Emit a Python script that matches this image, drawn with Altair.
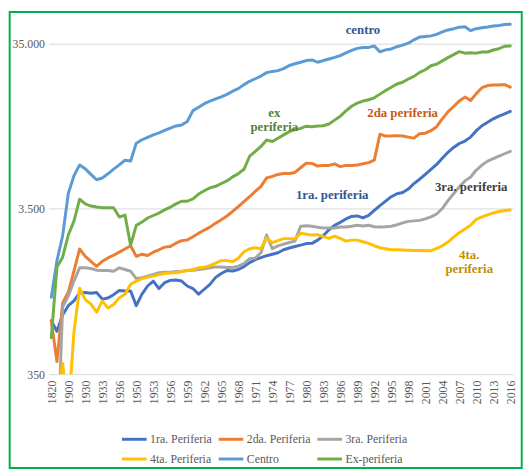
import altair as alt
import pandas as pd

# ---- categories (x axis) ----
years = ["1820", "1850", "1870", "1900", "1913", "1929", "1930", "1931", "1932",
         "1933", "1934", "1935", "1936", "1940", "1945"] + [str(y) for y in range(1950, 2017)]
label_years = ["1820", "1900", "1930", "1933", "1936"] + [str(y) for y in range(1950, 2017, 3)]

series_names = ["1ra. Periferia", "2da. Periferia", "3ra. Periferia",
                "4ta. Periferia", "Centro", "Ex-periferia"]
series_colors = ["#4472C4", "#ED7D31", "#A5A5A5", "#FFC000", "#5B9BD5", "#70AD47"]

primera = [735, 636, 799, 908, 972, 1085, 1091, 1081, 1091, 995, 1012, 1059, 1122, 1115, 1115,
           908, 1066, 1195, 1280, 1153, 1252, 1292, 1298, 1280, 1195,
           1153, 1066, 1142, 1223, 1347, 1423, 1483, 1473, 1503, 1566,
           1655, 1725, 1773, 1822, 1860, 1899, 1979, 2028, 2070, 2113,
           2157, 2163, 2264, 2407, 2616, 2783, 2900, 3042, 3149, 3169,
           3085, 3193, 3420, 3662, 3896, 4144, 4319, 4396, 4607, 4976,
           5287, 5663, 6067, 6498, 7086, 7695, 8226, 8692, 8997, 9504,
           10393, 11132, 11686, 12257, 12719, 13130, 13599]
segunda = [738, 417, 942, 1095, 1470, 2000, 1805, 1685, 1573, 1685, 1766, 1835, 1916, 2000, 2091,
           1805, 1860, 1828, 1914, 1979, 2054, 2071, 2169, 2248, 2270,
           2375, 2489, 2604, 2714, 2867, 3009, 3169, 3373, 3612, 3869,
           4144, 4470, 4787, 5383, 5494, 5648, 5726, 5726, 5806, 6202,
           6616, 6588, 6348, 6408, 6408, 6552, 6304, 6408, 6408, 6436,
           6552, 6659, 6894, 9900, 9640, 9640, 9700, 9640, 9500, 9370,
           9970, 10040, 10390, 10980, 12260, 13500, 14560, 15700, 16590, 15810,
           17410, 18910, 19480, 19650, 19650, 19750, 19040]
tercera = [300, 100, 892, 1041, 1280, 1539, 1539, 1524, 1489, 1483, 1483, 1468, 1539, 1503, 1468,
           1323, 1341, 1371, 1403, 1437, 1449, 1449, 1462, 1468, 1483,
           1489, 1503, 1518, 1539, 1559, 1556, 1545, 1545, 1577, 1633,
           1749, 1761, 1899, 2431, 2006, 2091, 2142, 2189, 2233, 2745,
           2764, 2745, 2707, 2681, 2681, 2681, 2718, 2718, 2745, 2783,
           2756, 2783, 2726, 2718, 2726, 2745, 2802, 2880, 2940, 2960,
           2981, 3042, 3127, 3259, 3514, 3922, 4319, 4755, 5164, 5456,
           6008, 6436, 6801, 7038, 7283, 7538, 7801]
cuarta = [250, 245, 407, 200, 632, 1158, 988, 929, 829, 972, 879, 923, 1016, 1066, 1223,
          1280, 1323, 1352, 1371, 1403, 1423, 1437, 1437, 1462, 1483,
          1503, 1539, 1552, 1588, 1644, 1701, 1701, 1678, 1761, 1926,
          2006, 2034, 2006, 2327, 2189, 2248, 2311, 2311, 2311, 2491,
          2458, 2428, 2442, 2376, 2317, 2391, 2317, 2233, 2264, 2264,
          2212, 2163, 2093, 2036, 2006, 1979, 1979, 1971, 1965, 1960,
          1960, 1952, 1952, 2020, 2091, 2203, 2359, 2512, 2640, 2783,
          3021, 3127, 3214, 3304, 3373, 3420, 3443]
centro = [1020, 1700, 2400, 4330, 5550, 6450, 6110, 5660, 5250, 5375, 5700, 6080, 6450, 6885, 6820,
          8735, 9160, 9480, 9810, 10080, 10440, 10770, 11100, 11260, 11810,
          13740, 14420, 15130, 15700, 16200, 16660, 17240, 18010, 18670, 19730,
          20670, 21420, 22240, 23330, 23720, 23990, 24650, 25760, 26400, 26950,
          27600, 27830, 26950, 27600, 28210, 28870, 29560, 30720, 31800, 32680,
          33130, 33130, 33820, 31150, 32010, 32450, 33450, 34200, 35150, 36820,
          38270, 38530, 38900, 39770, 41100, 42250, 43010, 43900, 44210, 41840,
          43010, 43600, 44020, 44630, 45000, 45620, 45760]
ex_periferia = [582, 1555, 1785, 2430, 2950, 4000, 3750, 3640, 3590, 3550, 3550, 3550, 3120, 3210, 2110,
                2780, 2910, 3080, 3190, 3300, 3450, 3580, 3750, 3890, 3890,
                4020, 4300, 4500, 4690, 4790, 4980, 5160, 5460, 5710, 6070,
                7280, 7800, 8340, 9120, 8940, 9350, 9800, 10250, 10540, 10730,
                11060, 10980, 11090, 11130, 11400, 12040, 12720, 13690, 14600, 15270,
                15700, 15990, 16430, 17290, 18190, 19040, 19920, 20390, 21340, 22140,
                23400, 24280, 25660, 26230, 27480, 28750, 29960, 31230, 30590, 30800,
                30590, 31090, 31090, 31970, 32540, 33680, 33770]

# annotations placed through the scales
ann_text = ["centro", "ex\nperiferia", "2da periferia", "1ra. periferia", "3ra. periferia", "4ta.\nperiferia"]
ann_year = ["1990", "1974", "1997", "1985", "2009", "2009"]
ann_value = [42000, 13310, 13230, 4260, 4723, 1842]
ann_color = ["#2F5597", "#548235", "#C55A11", "#2F5597", "#404040", "#BF9000"]
ann_dx = [0, 2, 0, -2.5, 0.6, -1.4]

FONT = "Liberation Serif, Times New Roman, serif"
GREY = "#595959"

rows = []
for name, vals in zip(series_names, [primera, segunda, tercera, cuarta, centro, ex_periferia]):
    for y, v in zip(years, vals):
        rows.append({"year": y, "serie": name, "value": v})
df = pd.DataFrame(rows)

W, H = 471, 364
xscale = alt.Scale(type="point", padding=0.5)
yscale = alt.Scale(type="log", domain=[350, 52000], nice=False)

x_enc = alt.X("year:O", sort=years, scale=xscale,
              axis=alt.Axis(values=label_years, labelAngle=-90, labelFont=FONT, labelFontSize=12,
                            labelColor=GREY, domain=False, ticks=False, grid=False,
                            labelPadding=6, title=None, labelOverlap=False))
y_enc = alt.Y("value:Q", scale=yscale,
              axis=alt.Axis(values=[350, 3500, 35000],
                            labelExpr="replace(format(datum.value, ','), ',', '.')",
                            grid=True, gridColor="#D9D9D9", gridWidth=1, domain=False,
                            ticks=False, labelPadding=4, title=None, labelFont=FONT,
                            labelFontSize=12, labelColor=GREY))

lines = alt.Chart(df).mark_line(strokeWidth=3, clip=True, strokeJoin="round", strokeCap="round").encode(
    x=x_enc,
    y=y_enc,
    color=alt.Color("serie:N", title=None,
                    scale=alt.Scale(domain=series_names, range=series_colors),
                    legend=alt.Legend(orient="none", legendX=73, legendY=416, direction="horizontal",
                                      columns=3, symbolType="stroke", symbolStrokeWidth=3,
                                      symbolSize=625, labelFont=FONT, labelFontSize=12,
                                      labelColor=GREY, columnPadding=0, rowPadding=0,
                                      labelOffset=2, labelLimit=300)),
)

layers = [lines]
for t, yr, v, c, dx in zip(ann_text, ann_year, ann_value, ann_color, ann_dx):
    adf = pd.DataFrame({"year": [yr], "value": [v], "label": [t]})
    layers.append(
        alt.Chart(adf).mark_text(font=FONT, fontSize=13, fontWeight="bold", color=c,
                                 lineBreak="\n", lineHeight=14, align="center",
                                 baseline="middle", dx=dx).encode(
            x=alt.X("year:O", sort=years, scale=xscale),
            y=alt.Y("value:Q", scale=yscale),
            text="label:N")
    )

frame = alt.Chart(pd.DataFrame({"k": [0]})).mark_rect(
    filled=False, stroke="#00B050", strokeWidth=2, clip=False).encode(
    x=alt.value(-39.3), x2=alt.value(479.7), y=alt.value(-3), y2=alt.value(459))
layers.append(frame)

chart = alt.layer(*layers).properties(
    width=W, height=H,
    padding={"left": 0, "top": 0, "right": 0, "bottom": 0},
).configure_view(stroke="transparent")

chart.save("out.html", embed_options={"renderer": "svg", "actions": False})
